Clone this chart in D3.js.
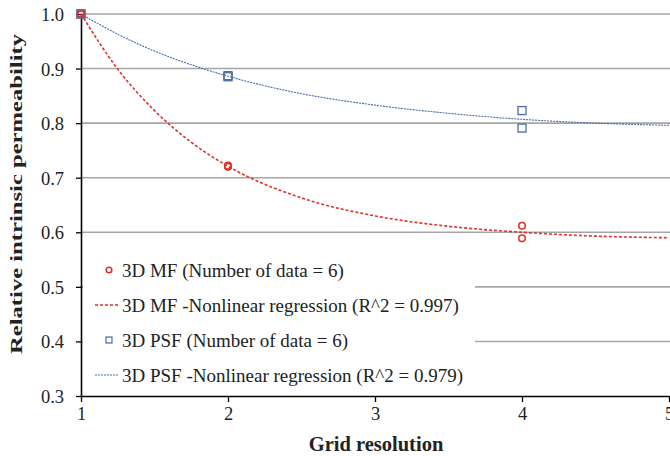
<!DOCTYPE html>
<html><head><meta charset="utf-8">
<script src="https://cdn.jsdelivr.net/npm/d3@7"></script>
<style>body{margin:0;background:#fff}svg text{font-family:"Liberation Serif","DejaVu Serif","Noto Serif",Tinos,"Times New Roman",Times,serif}</style>
</head><body><svg id="c" width="670" height="456"></svg>
<script>
const yTicks = [0.3,0.4,0.5,0.6,0.7,0.8,0.9,1.0];
const xTicks = [1,2,3,4,5];
const mfX = [1,1,2,2,4,4];
const mfY = [1.0,1.0,0.722,0.720,0.612,0.589];
const psfX = [1,1,2,2,4,4];
const psfY = [1.0,1.0,0.887,0.885,0.823,0.791];
const fitX = [1,1.25,1.5,1.75,2,2.5,3,3.5,4,4.5,5];
const mfFit = [1.0,0.899,0.823,0.765,0.721,0.663,0.630,0.611,0.600,0.593,0.590];
const psfFit = [1.0,0.963,0.932,0.907,0.886,0.854,0.833,0.818,0.807,0.800,0.796];
const legendLabels = ["3D MF (Number of data = 6)","3D MF -Nonlinear regression (R^2 = 0.997)","3D PSF (Number of data = 6)","3D PSF -Nonlinear regression (R^2 = 0.979)"];

const red = "#e0322b", blue = "#4a6da3";
const svg = d3.select("#c");
const x = d3.scaleLinear().domain([1,5]).range([81,669]);
const y = d3.scaleLinear().domain([0.3,1.0]).range([396,14]);

svg.append("g").selectAll("line").data(yTicks.filter(d=>d>0.3)).join("line")
  .attr("x1",x(1)).attr("x2",670).attr("y1",d=>y(d)).attr("y2",d=>y(d))
  .attr("stroke","#a6a6a6").attr("stroke-width",1.6);

svg.append("rect").attr("x",83).attr("y",252).attr("width",392).attr("height",141).attr("fill","#fff");

const yAxis = d3.axisLeft(y).tickValues(yTicks).tickFormat(d3.format(".1f")).tickSize(5).tickSizeOuter(0);
const gy = svg.append("g").attr("transform",`translate(${x(1)},0)`).call(yAxis);
const xAxis = d3.axisBottom(x).tickValues(xTicks).tickFormat(d3.format("d")).tickSize(6).tickSizeOuter(0);
const gx = svg.append("g").attr("transform",`translate(0,${y(0.3)})`).call(xAxis);
[gx,gy].forEach(g=>{
  g.attr("font-family",null);
  g.select(".domain").attr("stroke","#000").attr("stroke-width",1.6);
  g.selectAll(".tick line").attr("stroke","#000").attr("stroke-width",1.3);
  g.selectAll("text").attr("font-size",18.5).attr("fill","#222");
});
gy.selectAll("text").attr("x",-17).attr("dy","0.35em");
gx.selectAll("text").attr("y",11).attr("dy","0.71em");

svg.append("text").attr("x",376).attr("y",451).attr("text-anchor","middle")
  .attr("font-size",20.5).attr("font-weight","bold").attr("fill","#222").text("Grid resolution");
svg.append("text").attr("transform","translate(22,194) rotate(-90)").attr("text-anchor","middle")
  .attr("font-size",17.5).attr("font-weight","bold").attr("fill","#222")
  .attr("textLength",320).attr("lengthAdjust","spacingAndGlyphs").text("Relative intrinsic permeability");

const line = d3.line().x(d=>x(d[0])).y(d=>y(d[1])).curve(d3.curveMonotoneX);
svg.append("path").attr("d",line(fitX.map((v,i)=>[v,psfFit[i]]))).attr("fill","none")
  .attr("stroke",blue).attr("stroke-width",1.1).attr("stroke-dasharray","2,1");
svg.append("path").attr("d",line(fitX.map((v,i)=>[v,mfFit[i]]))).attr("fill","none")
  .attr("stroke",red).attr("stroke-width",1.6).attr("stroke-dasharray","3,2");

svg.append("g").selectAll("rect").data(psfX.map((v,i)=>[v,psfY[i]])).join("rect")
  .attr("x",d=>x(d[0])-4).attr("y",d=>y(d[1])-4).attr("width",8).attr("height",8)
  .attr("fill","none").attr("stroke",blue).attr("stroke-width",1.3);
svg.append("g").selectAll("circle").data(mfX.map((v,i)=>[v,mfY[i]])).join("circle")
  .attr("cx",d=>x(d[0])).attr("cy",d=>y(d[1])).attr("r",3.3)
  .attr("fill","none").attr("stroke",red).attr("stroke-width",1.6);

const ly = [270,305,340,375];
const lg = svg.append("g");
lg.append("circle").attr("cx",109).attr("cy",ly[0]).attr("r",2.8).attr("fill","none").attr("stroke",red).attr("stroke-width",1.6);
lg.append("line").attr("x1",95).attr("x2",119).attr("y1",ly[1]).attr("y2",ly[1]).attr("stroke",red).attr("stroke-width",1.6).attr("stroke-dasharray","3,2");
lg.append("rect").attr("x",106).attr("y",ly[2]-3).attr("width",6).attr("height",6).attr("fill","none").attr("stroke",blue).attr("stroke-width",1.2);
lg.append("line").attr("x1",95).attr("x2",119).attr("y1",ly[3]).attr("y2",ly[3]).attr("stroke",blue).attr("stroke-width",1.1).attr("stroke-dasharray","2,1");
lg.selectAll("text").data(legendLabels).join("text").attr("x",122).attr("y",(d,i)=>ly[i]).attr("dy","0.35em")
  .attr("font-size",19).attr("fill","#222").text(d=>d);
</script></body></html>
